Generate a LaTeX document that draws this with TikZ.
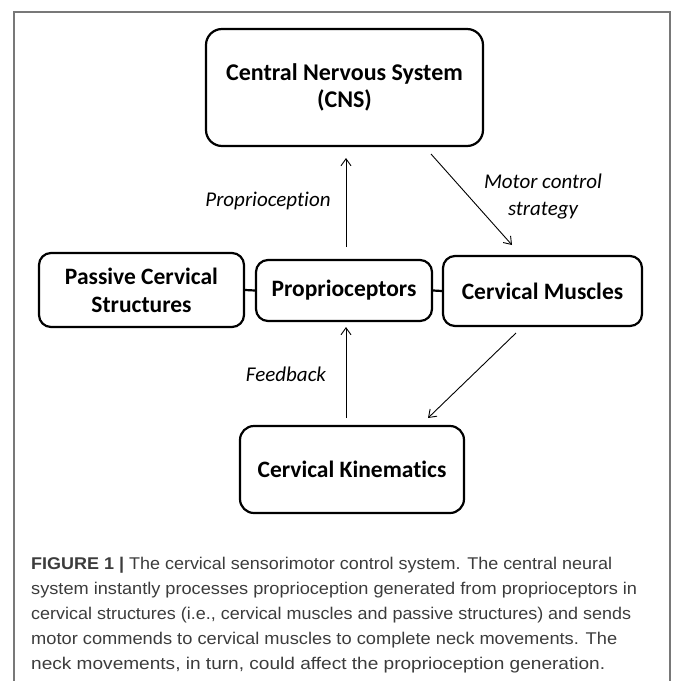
\documentclass[tikz,border=0pt]{standalone}
\usepackage{fontspec}
\setmainfont[Ligatures={NoCommon}]{Carlito}
\newfontfamily\capfont{Liberation Sans}
\usetikzlibrary{arrows.meta}
\definecolor{capgray}{RGB}{60,60,60}
\definecolor{framegray}{RGB}{120,120,120}
\tikzset{
  box/.style={draw=black, line width=2.2pt, rounded corners=12pt, align=center,
    font=\fontsize{23.5}{28}\selectfont\bfseries, inner sep=0pt},
  lbl/.style={font=\fontsize{21}{27}\selectfont\itshape, align=center, inner sep=0pt},
  arr/.style={line width=0.9pt, -{Straight Barb[length=7pt,width=10pt,line width=0.9pt]}},
  link/.style={line width=2.2pt},
  capline/.style={anchor=base west, inner sep=0pt, text=capgray, font=\capfont\fontsize{17}{25}\selectfont}
}
\newcommand\fitline[2]{\resizebox{#1}{\height}{#2}}
\begin{document}
\begin{tikzpicture}[x=1pt,y=-1pt]
\useasboundingbox (0,0) rectangle (673,681);
% frame
\draw[framegray, line width=1.2pt] (14,681) -- (14,12) -- (670,12) -- (670,681);
% boxes
\node[box, rounded corners=16pt, minimum width=277pt, minimum height=117pt, font=\fontsize{24}{27}\selectfont\bfseries] (cns) at (344.5,87.5) {Central Nervous System\\(CNS)};
\node[box, minimum width=205pt, minimum height=74pt] (pass) at (141.5,290) {Passive Cervical\\Structures};
\node[box, minimum width=176pt, minimum height=61pt] (prop) at (344,290.5) {Proprioceptors};
\node[box, minimum width=199pt, minimum height=70pt] (musc) at (542.5,291) {Cervical Muscles};
\node[box, rounded corners=14pt, minimum width=224pt, minimum height=87pt] (kin) at (352,469.5) {Cervical Kinematics};
% links
\draw[link] (pass.east) -- (prop.west);
\draw[link] (prop.east) -- (musc.west);
% arrows
\coordinate (p1) at (346,247);
\coordinate (p2) at (346,158);
\draw[arr] (p1) -- (p2);
\coordinate (m1) at (431,154);
\coordinate (m2) at (512,245);
\draw[arr] (m1) -- (m2);
\coordinate (k1) at (516,333);
\coordinate (k2) at (428,418);
\draw[arr] (k1) -- (k2);
\coordinate (f1) at (346,418);
\coordinate (f2) at (346,327);
\draw[arr] (f1) -- (f2);
% labels
\node[lbl] (lprop) at (268,201) {Proprioception};
\node[lbl] (lmot) at (543,197) {Motor control\\strategy};
\node[lbl] (lfb) at (286,374) {Feedback};
% caption
\node[capline] (c1) at (31,569) {\fitline{581pt}{\textbf{FIGURE 1 |} The cervical sensorimotor control system. The central neural}};
\node[capline] (c2) at (31,594) {\fitline{606pt}{system instantly processes proprioception generated from proprioceptors in}};
\node[capline] (c3) at (31,619) {\fitline{600pt}{cervical structures (i.e., cervical muscles and passive structures) and sends}};
\node[capline] (c4) at (31,644) {\fitline{586pt}{motor commends to cervical muscles to complete neck movements. The}};
\node[capline] (c5) at (31,669) {\fitline{574pt}{neck movements, in turn, could affect the proprioception generation.}};
\end{tikzpicture}
\end{document}
